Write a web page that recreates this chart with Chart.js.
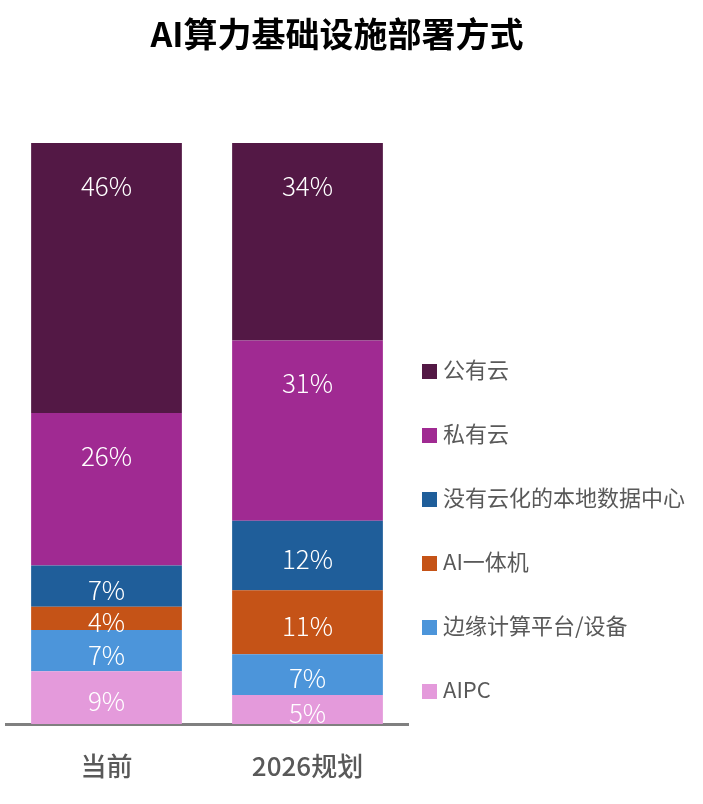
<!DOCTYPE html>
<html>
<head>
<meta charset="utf-8">
<script src="https://cdn.jsdelivr.net/npm/chart.js"></script>
<style>
  body { margin: 0; background: #fff; font-family: "Noto Sans CJK SC", sans-serif; }
  #wrap { position: relative; width: 703px; height: 804px; }
  #title { position: absolute; left: 0; top: 11px; width: 674px; margin: 0; text-align: center;
           font-size: 34px; line-height: 44px; font-weight: 700; color: #000; }
  #legend { position: absolute; left: 422px; top: 357px; margin: 0; padding: 0; list-style: none; }
  #legend li { height: 22px; line-height: 22px; margin-bottom: 42px; font-size: 22px; color: #595959; white-space: nowrap; }
  #legend span { display: inline-block; width: 15px; height: 15px; margin-right: 6px; vertical-align: -1px; }
</style>
</head>
<body>
<div id="wrap">
  <h1 id="title">AI算力基础设施部署方式</h1>
  <canvas id="chart" width="703" height="804"></canvas>
  <ul id="legend"></ul>
</div>
<script>
// data (percent of respondents)
const categories = ['当前', '2026规划'];
const seriesNames = ['AIPC', '边缘计算平台/设备', 'AI一体机', '没有云化的本地数据中心', '私有云', '公有云'];
const aipc = [9, 5];
const edgeDevices = [7, 7];
const allInOne = [4, 11];
const localDataCenter = [7, 12];
const privateCloud = [26, 31];
const publicCloud = [46, 34];
const seriesColors = ['#E49ADB', '#4C95DA', '#C55317', '#1F5E9A', '#A02A92', '#531845'];

const series = [aipc, edgeDevices, allInOne, localDataCenter, privateCloud, publicCloud];
const totals = categories.map((c, j) => series.reduce((s, v) => s + v[j], 0));

const datasets = series.map((values, i) => ({
  label: seriesNames[i],
  values: values,
  data: values.map((v, j) => v / totals[j] * 100),
  backgroundColor: seriesColors[i],
  categoryPercentage: 1,
  barPercentage: 0.75
}));

// percentage labels inside the segments
const barLabels = {
  id: 'barLabels',
  afterDatasetsDraw(chart) {
    const ctx = chart.ctx;
    ctx.save();
    ctx.fillStyle = '#fff';
    ctx.font = '300 26px "Noto Sans CJK SC"';
    ctx.textAlign = 'center';
    ctx.textBaseline = 'middle';
    chart.data.datasets.forEach((ds, i) => {
      chart.getDatasetMeta(i).data.forEach((bar, j) => {
        const h = bar.base - bar.y;
        ctx.fillText(ds.values[j] + '%', bar.x, bar.y + Math.min(43, h / 2 + 4));
      });
    });
    ctx.restore();
  }
};

new Chart(document.getElementById('chart'), {
  type: 'bar',
  data: { labels: categories, datasets: datasets },
  options: {
    responsive: false,
    animation: false,
    layout: { padding: { left: 6, right: 295, top: 143, bottom: 0 } },
    plugins: {
      legend: { display: false },
      title: { display: false },
      tooltip: { enabled: false }
    },
    scales: {
      x: {
        stacked: true,
        grid: { display: false, drawTicks: false },
        border: { display: true, color: '#808080', width: 3 },
        afterFit: (scale) => { scale.height = 80; },
        ticks: {
          padding: 27,
          color: '#595959',
          font: { family: '"Noto Sans CJK SC"', size: 26, weight: '500' }
        }
      },
      y: { stacked: true, min: 0, max: 100, display: false }
    }
  },
  plugins: [barLabels]
});

// legend, top entry = top segment
const legend = document.getElementById('legend');
for (let i = seriesNames.length - 1; i >= 0; i--) {
  const li = document.createElement('li');
  const box = document.createElement('span');
  box.style.background = seriesColors[i];
  li.appendChild(box);
  li.appendChild(document.createTextNode(seriesNames[i]));
  legend.appendChild(li);
}
</script>
</body>
</html>
